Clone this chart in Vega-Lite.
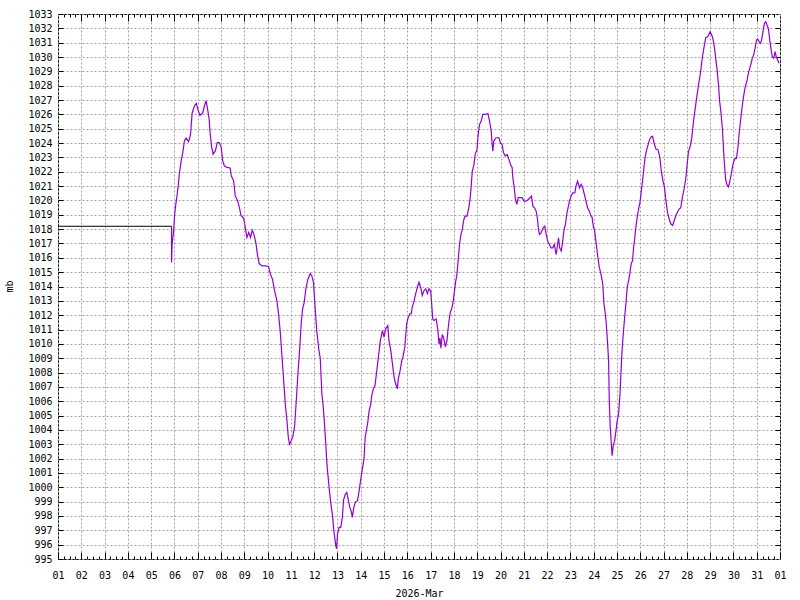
{
  "$schema": "https://vega.github.io/schema/vega-lite/v6.json",
  "width": 722,
  "height": 545,
  "autosize": {"type": "none"},
  "padding": {"left": 58, "top": 14, "right": 20, "bottom": 41},
  "background": "white",
  "config": {
    "view": {"stroke": "black", "strokeWidth": 1},
    "font": "DejaVu Sans Mono",
    "axis": {
      "domain": false,
      "tickColor": "black",
      "tickWidth": 1,
      "labelFont": "DejaVu Sans Mono",
      "labelFontSize": 10,
      "labelColor": "black",
      "titleFont": "DejaVu Sans Mono",
      "titleFontSize": 10,
      "titleFontWeight": "normal",
      "titleColor": "black",
      "gridColor": "#a0a0a0",
      "gridDash": [2, 2],
      "gridWidth": 1,
      "gridOpacity": 1
    }
  },
  "datasets": {
    "pad": [
      {"days": 0, "mb": 1018.2},
      {"days": 4.876, "mb": 1018.2}
    ],
    "pressure": [
      {"days": 4.876, "mb": 1018.2}, {"days": 4.876, "mb": 1015.67}, {"days": 4.9, "mb": 1016.95}, {"days": 4.96, "mb": 1017.77},
      {"days": 5.0, "mb": 1018.86}, {"days": 5.04, "mb": 1019.5}, {"days": 5.11, "mb": 1020.33}, {"days": 5.16, "mb": 1021.0},
      {"days": 5.21, "mb": 1021.84}, {"days": 5.29, "mb": 1022.77}, {"days": 5.36, "mb": 1023.35}, {"days": 5.43, "mb": 1024.16},
      {"days": 5.5, "mb": 1024.35}, {"days": 5.61, "mb": 1024.1}, {"days": 5.69, "mb": 1024.6}, {"days": 5.76, "mb": 1026.1},
      {"days": 5.86, "mb": 1026.6}, {"days": 5.94, "mb": 1026.77}, {"days": 6.0, "mb": 1026.37}, {"days": 6.1, "mb": 1025.93},
      {"days": 6.21, "mb": 1026.1}, {"days": 6.29, "mb": 1026.6}, {"days": 6.36, "mb": 1026.95}, {"days": 6.43, "mb": 1026.3},
      {"days": 6.49, "mb": 1025.67}, {"days": 6.53, "mb": 1024.74}, {"days": 6.59, "mb": 1023.8}, {"days": 6.66, "mb": 1023.23},
      {"days": 6.76, "mb": 1023.47}, {"days": 6.84, "mb": 1024.05}, {"days": 6.93, "mb": 1024.02}, {"days": 7.01, "mb": 1023.7},
      {"days": 7.07, "mb": 1022.77}, {"days": 7.14, "mb": 1022.42}, {"days": 7.26, "mb": 1022.3}, {"days": 7.39, "mb": 1022.26},
      {"days": 7.44, "mb": 1021.72}, {"days": 7.54, "mb": 1021.37}, {"days": 7.61, "mb": 1020.33}, {"days": 7.71, "mb": 1019.98},
      {"days": 7.79, "mb": 1019.5}, {"days": 7.86, "mb": 1018.93}, {"days": 7.97, "mb": 1018.77}, {"days": 8.04, "mb": 1018.12},
      {"days": 8.11, "mb": 1017.42}, {"days": 8.19, "mb": 1017.77}, {"days": 8.27, "mb": 1017.42}, {"days": 8.34, "mb": 1017.93},
      {"days": 8.41, "mb": 1017.65}, {"days": 8.5, "mb": 1017.0}, {"days": 8.56, "mb": 1016.26}, {"days": 8.64, "mb": 1015.6},
      {"days": 8.76, "mb": 1015.44}, {"days": 8.9, "mb": 1015.44}, {"days": 9.04, "mb": 1015.4}, {"days": 9.11, "mb": 1014.9},
      {"days": 9.21, "mb": 1014.5}, {"days": 9.3, "mb": 1013.7}, {"days": 9.4, "mb": 1013.0}, {"days": 9.47, "mb": 1012.07},
      {"days": 9.54, "mb": 1010.9}, {"days": 9.61, "mb": 1009.28}, {"days": 9.69, "mb": 1007.42}, {"days": 9.76, "mb": 1005.79},
      {"days": 9.83, "mb": 1004.63}, {"days": 9.89, "mb": 1003.47}, {"days": 9.94, "mb": 1003.0}, {"days": 10.01, "mb": 1003.23},
      {"days": 10.09, "mb": 1003.58}, {"days": 10.16, "mb": 1004.28}, {"days": 10.23, "mb": 1006.02}, {"days": 10.3, "mb": 1007.88},
      {"days": 10.39, "mb": 1009.98}, {"days": 10.44, "mb": 1011.37}, {"days": 10.5, "mb": 1012.42}, {"days": 10.57, "mb": 1012.88},
      {"days": 10.64, "mb": 1013.81}, {"days": 10.73, "mb": 1014.51}, {"days": 10.83, "mb": 1014.9}, {"days": 10.9, "mb": 1014.74},
      {"days": 10.97, "mb": 1014.28}, {"days": 11.04, "mb": 1012.53}, {"days": 11.11, "mb": 1010.9}, {"days": 11.2, "mb": 1009.6},
      {"days": 11.26, "mb": 1009.0}, {"days": 11.33, "mb": 1006.5}, {"days": 11.39, "mb": 1005.6}, {"days": 11.43, "mb": 1004.7},
      {"days": 11.5, "mb": 1003.0}, {"days": 11.53, "mb": 1002.0}, {"days": 11.57, "mb": 1001.2}, {"days": 11.64, "mb": 1000.0},
      {"days": 11.71, "mb": 998.9}, {"days": 11.79, "mb": 998.0}, {"days": 11.84, "mb": 997.0}, {"days": 11.89, "mb": 996.4},
      {"days": 11.93, "mb": 995.9}, {"days": 11.96, "mb": 995.7}, {"days": 12.0, "mb": 996.7}, {"days": 12.07, "mb": 997.2},
      {"days": 12.14, "mb": 997.2}, {"days": 12.21, "mb": 997.9}, {"days": 12.26, "mb": 999.1}, {"days": 12.33, "mb": 999.5},
      {"days": 12.4, "mb": 999.65}, {"days": 12.47, "mb": 999.07}, {"days": 12.53, "mb": 998.6}, {"days": 12.6, "mb": 998.26},
      {"days": 12.64, "mb": 997.9}, {"days": 12.69, "mb": 998.5}, {"days": 12.76, "mb": 998.95}, {"days": 12.86, "mb": 999.07},
      {"days": 12.93, "mb": 999.77}, {"days": 13.0, "mb": 1000.58}, {"days": 13.07, "mb": 1001.3}, {"days": 13.14, "mb": 1001.98},
      {"days": 13.19, "mb": 1003.5}, {"days": 13.24, "mb": 1003.95}, {"days": 13.3, "mb": 1004.53}, {"days": 13.36, "mb": 1005.35},
      {"days": 13.43, "mb": 1005.8}, {"days": 13.47, "mb": 1006.4}, {"days": 13.54, "mb": 1006.86}, {"days": 13.61, "mb": 1007.1},
      {"days": 13.67, "mb": 1007.9}, {"days": 13.74, "mb": 1008.84}, {"days": 13.79, "mb": 1009.53}, {"days": 13.84, "mb": 1010.23},
      {"days": 13.93, "mb": 1010.93}, {"days": 14.0, "mb": 1010.47}, {"days": 14.07, "mb": 1011.05}, {"days": 14.16, "mb": 1011.28},
      {"days": 14.21, "mb": 1010.23}, {"days": 14.29, "mb": 1009.53}, {"days": 14.36, "mb": 1008.6}, {"days": 14.43, "mb": 1007.67},
      {"days": 14.5, "mb": 1007.2}, {"days": 14.57, "mb": 1006.86}, {"days": 14.61, "mb": 1007.56}, {"days": 14.69, "mb": 1008.14},
      {"days": 14.76, "mb": 1008.84}, {"days": 14.81, "mb": 1009.07}, {"days": 14.89, "mb": 1009.77}, {"days": 14.93, "mb": 1010.58},
      {"days": 14.97, "mb": 1011.4}, {"days": 15.04, "mb": 1011.86}, {"days": 15.11, "mb": 1012.1}, {"days": 15.17, "mb": 1012.1},
      {"days": 15.21, "mb": 1012.56}, {"days": 15.29, "mb": 1013.0}, {"days": 15.36, "mb": 1013.5}, {"days": 15.43, "mb": 1013.95},
      {"days": 15.5, "mb": 1014.3}, {"days": 15.57, "mb": 1013.95}, {"days": 15.64, "mb": 1013.37}, {"days": 15.71, "mb": 1013.7},
      {"days": 15.79, "mb": 1013.84}, {"days": 15.86, "mb": 1013.5}, {"days": 15.93, "mb": 1013.84}, {"days": 16.0, "mb": 1013.7},
      {"days": 16.04, "mb": 1012.9}, {"days": 16.09, "mb": 1011.74}, {"days": 16.14, "mb": 1011.63}, {"days": 16.24, "mb": 1011.74},
      {"days": 16.31, "mb": 1010.93}, {"days": 16.36, "mb": 1010.0}, {"days": 16.4, "mb": 1010.4}, {"days": 16.44, "mb": 1009.7},
      {"days": 16.5, "mb": 1010.65}, {"days": 16.56, "mb": 1010.4}, {"days": 16.63, "mb": 1009.8}, {"days": 16.7, "mb": 1010.2},
      {"days": 16.74, "mb": 1010.9}, {"days": 16.79, "mb": 1011.6}, {"days": 16.84, "mb": 1012.16}, {"days": 16.91, "mb": 1012.5},
      {"days": 16.97, "mb": 1012.98}, {"days": 17.03, "mb": 1013.8}, {"days": 17.07, "mb": 1014.3}, {"days": 17.13, "mb": 1014.84},
      {"days": 17.19, "mb": 1016.0}, {"days": 17.24, "mb": 1016.93}, {"days": 17.3, "mb": 1017.63}, {"days": 17.36, "mb": 1017.98},
      {"days": 17.41, "mb": 1018.56}, {"days": 17.47, "mb": 1018.9}, {"days": 17.56, "mb": 1018.9}, {"days": 17.64, "mb": 1019.5},
      {"days": 17.7, "mb": 1020.2}, {"days": 17.74, "mb": 1021.0}, {"days": 17.79, "mb": 1022.05}, {"days": 17.86, "mb": 1022.5},
      {"days": 17.91, "mb": 1023.2}, {"days": 17.99, "mb": 1023.56}, {"days": 18.04, "mb": 1024.6}, {"days": 18.1, "mb": 1025.3},
      {"days": 18.17, "mb": 1025.53}, {"days": 18.24, "mb": 1026.0}, {"days": 18.34, "mb": 1026.0}, {"days": 18.46, "mb": 1026.05},
      {"days": 18.53, "mb": 1025.53}, {"days": 18.6, "mb": 1024.84}, {"days": 18.64, "mb": 1023.9}, {"days": 18.67, "mb": 1023.44},
      {"days": 18.71, "mb": 1024.14}, {"days": 18.81, "mb": 1024.37}, {"days": 18.93, "mb": 1024.37}, {"days": 19.0, "mb": 1024.0},
      {"days": 19.07, "mb": 1023.9}, {"days": 19.13, "mb": 1023.33}, {"days": 19.21, "mb": 1023.1}, {"days": 19.29, "mb": 1023.2},
      {"days": 19.36, "mb": 1022.86}, {"days": 19.43, "mb": 1022.5}, {"days": 19.5, "mb": 1022.28}, {"days": 19.53, "mb": 1021.58},
      {"days": 19.59, "mb": 1020.88}, {"days": 19.64, "mb": 1020.07}, {"days": 19.7, "mb": 1019.72}, {"days": 19.76, "mb": 1020.19},
      {"days": 19.84, "mb": 1020.19}, {"days": 19.93, "mb": 1020.19}, {"days": 20.01, "mb": 1019.95}, {"days": 20.1, "mb": 1019.95},
      {"days": 20.19, "mb": 1020.07}, {"days": 20.27, "mb": 1020.19}, {"days": 20.33, "mb": 1020.3}, {"days": 20.39, "mb": 1019.6},
      {"days": 20.46, "mb": 1019.49}, {"days": 20.53, "mb": 1019.26}, {"days": 20.59, "mb": 1018.67}, {"days": 20.63, "mb": 1017.98},
      {"days": 20.67, "mb": 1017.63}, {"days": 20.74, "mb": 1017.74}, {"days": 20.83, "mb": 1018.09}, {"days": 20.9, "mb": 1018.21},
      {"days": 20.96, "mb": 1017.63}, {"days": 21.03, "mb": 1017.16}, {"days": 21.1, "mb": 1016.93}, {"days": 21.17, "mb": 1016.7},
      {"days": 21.24, "mb": 1016.7}, {"days": 21.31, "mb": 1016.93}, {"days": 21.39, "mb": 1016.23}, {"days": 21.43, "mb": 1016.7},
      {"days": 21.49, "mb": 1017.4}, {"days": 21.54, "mb": 1016.7}, {"days": 21.61, "mb": 1016.47}, {"days": 21.67, "mb": 1017.16},
      {"days": 21.73, "mb": 1017.98}, {"days": 21.79, "mb": 1018.33}, {"days": 21.84, "mb": 1019.02}, {"days": 21.9, "mb": 1019.49},
      {"days": 21.96, "mb": 1019.95}, {"days": 22.03, "mb": 1020.3}, {"days": 22.1, "mb": 1020.53}, {"days": 22.19, "mb": 1020.53},
      {"days": 22.24, "mb": 1021.0}, {"days": 22.31, "mb": 1021.35}, {"days": 22.39, "mb": 1020.88}, {"days": 22.46, "mb": 1021.12},
      {"days": 22.53, "mb": 1020.88}, {"days": 22.6, "mb": 1020.42}, {"days": 22.67, "mb": 1019.95}, {"days": 22.74, "mb": 1019.49},
      {"days": 22.81, "mb": 1019.26}, {"days": 22.89, "mb": 1018.9}, {"days": 22.93, "mb": 1018.84}, {"days": 22.99, "mb": 1018.14},
      {"days": 23.04, "mb": 1017.9}, {"days": 23.1, "mb": 1017.09}, {"days": 23.17, "mb": 1016.16}, {"days": 23.24, "mb": 1015.35},
      {"days": 23.31, "mb": 1014.88}, {"days": 23.39, "mb": 1014.19}, {"days": 23.44, "mb": 1012.79}, {"days": 23.5, "mb": 1012.1},
      {"days": 23.54, "mb": 1011.4}, {"days": 23.59, "mb": 1010.23}, {"days": 23.64, "mb": 1008.84}, {"days": 23.67, "mb": 1006.05},
      {"days": 23.71, "mb": 1004.19}, {"days": 23.76, "mb": 1003.0}, {"days": 23.79, "mb": 1002.2}, {"days": 23.84, "mb": 1002.9},
      {"days": 23.9, "mb": 1003.26}, {"days": 23.96, "mb": 1003.95}, {"days": 24.01, "mb": 1004.65}, {"days": 24.07, "mb": 1005.12},
      {"days": 24.13, "mb": 1006.51}, {"days": 24.17, "mb": 1007.9}, {"days": 24.21, "mb": 1009.3}, {"days": 24.27, "mb": 1010.7},
      {"days": 24.33, "mb": 1011.86}, {"days": 24.39, "mb": 1012.9}, {"days": 24.44, "mb": 1013.95}, {"days": 24.5, "mb": 1014.42},
      {"days": 24.56, "mb": 1015.0}, {"days": 24.61, "mb": 1015.58}, {"days": 24.67, "mb": 1015.81}, {"days": 24.71, "mb": 1016.63},
      {"days": 24.76, "mb": 1017.33}, {"days": 24.81, "mb": 1018.14}, {"days": 24.87, "mb": 1018.84}, {"days": 24.93, "mb": 1019.42},
      {"days": 24.99, "mb": 1019.88}, {"days": 25.04, "mb": 1020.58}, {"days": 25.1, "mb": 1021.4}, {"days": 25.16, "mb": 1022.33},
      {"days": 25.21, "mb": 1023.02}, {"days": 25.27, "mb": 1023.49}, {"days": 25.33, "mb": 1023.84}, {"days": 25.39, "mb": 1024.19},
      {"days": 25.46, "mb": 1024.42}, {"days": 25.53, "mb": 1024.47}, {"days": 25.6, "mb": 1023.95}, {"days": 25.67, "mb": 1023.6},
      {"days": 25.76, "mb": 1023.53}, {"days": 25.84, "mb": 1023.02}, {"days": 25.9, "mb": 1022.09}, {"days": 25.97, "mb": 1021.4},
      {"days": 26.04, "mb": 1020.93}, {"days": 26.1, "mb": 1020.0}, {"days": 26.17, "mb": 1019.19}, {"days": 26.24, "mb": 1018.72},
      {"days": 26.31, "mb": 1018.37}, {"days": 26.39, "mb": 1018.26}, {"days": 26.46, "mb": 1018.6}, {"days": 26.53, "mb": 1018.95},
      {"days": 26.6, "mb": 1019.2}, {"days": 26.67, "mb": 1019.4}, {"days": 26.74, "mb": 1019.5}, {"days": 26.81, "mb": 1020.23},
      {"days": 26.89, "mb": 1020.85}, {"days": 26.96, "mb": 1021.6}, {"days": 27.0, "mb": 1022.3}, {"days": 27.07, "mb": 1023.4},
      {"days": 27.14, "mb": 1023.74}, {"days": 27.21, "mb": 1024.33}, {"days": 27.27, "mb": 1025.26}, {"days": 27.33, "mb": 1026.07},
      {"days": 27.39, "mb": 1026.77}, {"days": 27.44, "mb": 1027.35}, {"days": 27.5, "mb": 1028.05}, {"days": 27.56, "mb": 1028.63},
      {"days": 27.61, "mb": 1029.21}, {"days": 27.67, "mb": 1030.02}, {"days": 27.73, "mb": 1030.6}, {"days": 27.81, "mb": 1031.35},
      {"days": 27.9, "mb": 1031.42}, {"days": 28.0, "mb": 1031.77}, {"days": 28.07, "mb": 1031.53}, {"days": 28.13, "mb": 1031.19},
      {"days": 28.19, "mb": 1030.6}, {"days": 28.24, "mb": 1029.91}, {"days": 28.3, "mb": 1029.09}, {"days": 28.36, "mb": 1028.05},
      {"days": 28.41, "mb": 1026.88}, {"days": 28.47, "mb": 1026.07}, {"days": 28.53, "mb": 1024.91}, {"days": 28.59, "mb": 1023.16},
      {"days": 28.63, "mb": 1022.23}, {"days": 28.67, "mb": 1021.42}, {"days": 28.73, "mb": 1021.07}, {"days": 28.79, "mb": 1020.95},
      {"days": 28.84, "mb": 1021.3}, {"days": 28.9, "mb": 1021.77}, {"days": 28.96, "mb": 1022.35}, {"days": 29.01, "mb": 1022.7},
      {"days": 29.07, "mb": 1022.93}, {"days": 29.13, "mb": 1022.93}, {"days": 29.19, "mb": 1023.63}, {"days": 29.24, "mb": 1024.56},
      {"days": 29.3, "mb": 1025.49}, {"days": 29.36, "mb": 1026.3}, {"days": 29.41, "mb": 1027.0}, {"days": 29.47, "mb": 1027.58},
      {"days": 29.53, "mb": 1028.05}, {"days": 29.59, "mb": 1028.4}, {"days": 29.64, "mb": 1028.86}, {"days": 29.7, "mb": 1029.21},
      {"days": 29.76, "mb": 1029.56}, {"days": 29.81, "mb": 1029.91}, {"days": 29.87, "mb": 1030.14}, {"days": 29.93, "mb": 1030.6},
      {"days": 29.99, "mb": 1031.19}, {"days": 30.04, "mb": 1031.26}, {"days": 30.1, "mb": 1031.07}, {"days": 30.16, "mb": 1030.95},
      {"days": 30.21, "mb": 1031.19}, {"days": 30.27, "mb": 1031.77}, {"days": 30.33, "mb": 1032.35}, {"days": 30.39, "mb": 1032.47},
      {"days": 30.44, "mb": 1032.23}, {"days": 30.5, "mb": 1032.0}, {"days": 30.56, "mb": 1031.19}, {"days": 30.61, "mb": 1030.6},
      {"days": 30.67, "mb": 1030.02}, {"days": 30.73, "mb": 1029.91}, {"days": 30.79, "mb": 1030.37}, {"days": 30.84, "mb": 1030.02},
      {"days": 30.9, "mb": 1029.79}, {"days": 30.96, "mb": 1029.56}
    ]
  },
  "resolve": {"axis": {"x": "independent", "y": "independent"}},
  "layer": [
    {
      "data": {"name": "pressure"},
      "mark": {"type": "line", "color": "#9400d3", "strokeWidth": 1.2, "clip": true},
      "encoding": {
        "x": {
          "field": "days", "type": "quantitative",
          "scale": {"domain": [0, 31], "nice": false, "zero": false},
          "axis": {
            "orient": "bottom",
            "values": [0,1,2,3,4,5,6,7,8,9,10,11,12,13,14,15,16,17,18,19,20,21,22,23,24,25,26,27,28,29,30,31],
            "labelExpr": "datum.value >= 31 ? '01' : (datum.value < 9 ? '0' + (datum.value + 1) : '' + (datum.value + 1))",
            "grid": true,
            "tickSize": -7,
            "labelPadding": 18,
            "labelFlush": false,
            "labelOverlap": false,
            "title": "2026-Mar",
            "titleY": 29,
            "titleBaseline": "top"
          }
        },
        "y": {
          "field": "mb", "type": "quantitative",
          "scale": {"domain": [995, 1033], "nice": false, "zero": false},
          "axis": {
            "orient": "left",
            "values": [995,996,997,998,999,1000,1001,1002,1003,1004,1005,1006,1007,1008,1009,1010,1011,1012,1013,1014,1015,1016,1017,1018,1019,1020,1021,1022,1023,1024,1025,1026,1027,1028,1029,1030,1031,1032,1033],
            "format": "d",
            "grid": true,
            "tickSize": -5,
            "labelPadding": 11,
            "labelOverlap": false,
            "labelFlush": false,
            "title": "mb",
            "titleX": -44,
            "titleY": 272,
            "titleAngle": -90,
            "titleAlign": "center",
            "titleBaseline": "bottom"
          }
        }
      }
    },
    {
      "data": {"name": "pad"},
      "mark": {"type": "line", "color": "black", "strokeWidth": 1},
      "encoding": {
        "x": {
          "field": "days", "type": "quantitative",
          "axis": {
            "orient": "bottom",
            "values": [0.25,0.5,0.75,1.25,1.5,1.75,2.25,2.5,2.75,3.25,3.5,3.75,4.25,4.5,4.75,5.25,5.5,5.75,6.25,6.5,6.75,7.25,7.5,7.75,8.25,8.5,8.75,9.25,9.5,9.75,10.25,10.5,10.75,11.25,11.5,11.75,12.25,12.5,12.75,13.25,13.5,13.75,14.25,14.5,14.75,15.25,15.5,15.75,16.25,16.5,16.75,17.25,17.5,17.75,18.25,18.5,18.75,19.25,19.5,19.75,20.25,20.5,20.75,21.25,21.5,21.75,22.25,22.5,22.75,23.25,23.5,23.75,24.25,24.5,24.75,25.25,25.5,25.75,26.25,26.5,26.75,27.25,27.5,27.75,28.25,28.5,28.75,29.25,29.5,29.75,30.25,30.5,30.75],
            "labels": false,
            "grid": false,
            "tickSize": -3,
            "title": null
          }
        },
        "y": {
          "field": "mb", "type": "quantitative",
          "axis": {
            "orient": "right",
            "values": [996,997,998,999,1000,1001,1002,1003,1004,1005,1006,1007,1008,1009,1010,1011,1012,1013,1014,1015,1016,1017,1018,1019,1020,1021,1022,1023,1024,1025,1026,1027,1028,1029,1030,1031,1032],
            "labels": false,
            "grid": false,
            "tickSize": -5,
            "title": null
          }
        }
      }
    },
    {
      "data": {"name": "pad"},
      "mark": {"type": "line", "color": "black", "opacity": 0},
      "encoding": {
        "x": {
          "field": "days", "type": "quantitative",
          "axis": {
            "orient": "top",
            "values": [1,2,3,4,5,6,7,8,9,10,11,12,13,14,15,16,17,18,19,20,21,22,23,24,25,26,27,28,29,30],
            "labels": false,
            "grid": false,
            "tickSize": -7,
            "title": null
          }
        },
        "y": {"field": "mb", "type": "quantitative", "axis": null}
      }
    },
    {
      "data": {"name": "pad"},
      "mark": {"type": "line", "color": "black", "opacity": 0},
      "encoding": {
        "x": {
          "field": "days", "type": "quantitative",
          "axis": {
            "orient": "top",
            "values": [0.25,0.5,0.75,1.25,1.5,1.75,2.25,2.5,2.75,3.25,3.5,3.75,4.25,4.5,4.75,5.25,5.5,5.75,6.25,6.5,6.75,7.25,7.5,7.75,8.25,8.5,8.75,9.25,9.5,9.75,10.25,10.5,10.75,11.25,11.5,11.75,12.25,12.5,12.75,13.25,13.5,13.75,14.25,14.5,14.75,15.25,15.5,15.75,16.25,16.5,16.75,17.25,17.5,17.75,18.25,18.5,18.75,19.25,19.5,19.75,20.25,20.5,20.75,21.25,21.5,21.75,22.25,22.5,22.75,23.25,23.5,23.75,24.25,24.5,24.75,25.25,25.5,25.75,26.25,26.5,26.75,27.25,27.5,27.75,28.25,28.5,28.75,29.25,29.5,29.75,30.25,30.5,30.75],
            "labels": false,
            "grid": false,
            "tickSize": -3,
            "title": null
          }
        },
        "y": {"field": "mb", "type": "quantitative", "axis": null}
      }
    }
  ]
}
